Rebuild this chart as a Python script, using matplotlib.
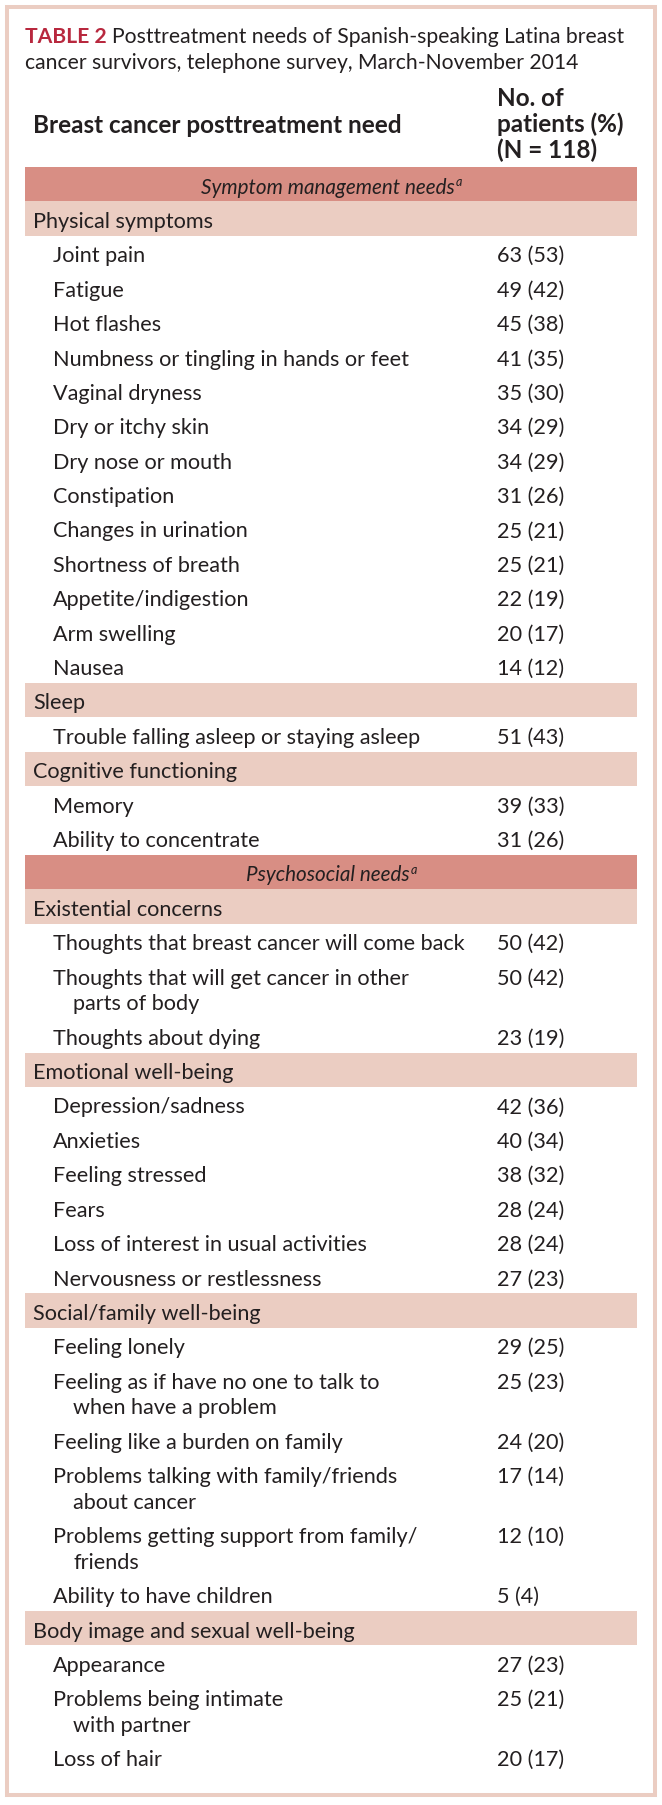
import matplotlib
matplotlib.use("Agg")
import matplotlib.pyplot as plt
from matplotlib.patches import Rectangle

# table content
title_lead = "TABLE 2"
title_line1 = "Posttreatment needs of Spanish-speaking Latina breast"
title_line2 = "cancer survivors, telephone survey, March-November 2014"
col_need = "Breast cancer posttreatment need"
col_count = ["No. of", "patients (%)", "(N = 118)"]

physical_items = ["Joint pain", "Fatigue", "Hot flashes", "Numbness or tingling in hands or feet",
                  "Vaginal dryness", "Dry or itchy skin", "Dry nose or mouth", "Constipation",
                  "Changes in urination", "Shortness of breath", "Appetite/indigestion",
                  "Arm swelling", "Nausea"]
physical_n = [63, 49, 45, 41, 35, 34, 34, 31, 25, 25, 22, 20, 14]
physical_pct = [53, 42, 38, 35, 30, 29, 29, 26, 21, 21, 19, 17, 12]

sleep_items = ["Trouble falling asleep or staying asleep"]
sleep_n = [51]
sleep_pct = [43]

cognitive_items = ["Memory", "Ability to concentrate"]
cognitive_n = [39, 31]
cognitive_pct = [33, 26]

existential_items = ["Thoughts that breast cancer will come back",
                     "Thoughts that will get cancer in other\nparts of body",
                     "Thoughts about dying"]
existential_n = [50, 50, 23]
existential_pct = [42, 42, 19]

emotional_items = ["Depression/sadness", "Anxieties", "Feeling stressed", "Fears",
                   "Loss of interest in usual activities", "Nervousness or restlessness"]
emotional_n = [42, 40, 38, 28, 28, 27]
emotional_pct = [36, 34, 32, 24, 24, 23]

social_items = ["Feeling lonely", "Feeling as if have no one to talk to\nwhen have a problem",
                "Feeling like a burden on family", "Problems talking with family/friends\nabout cancer",
                "Problems getting support from family/\nfriends", "Ability to have children"]
social_n = [29, 25, 24, 17, 12, 5]
social_pct = [25, 23, 20, 14, 10, 4]

body_items = ["Appearance", "Problems being intimate\nwith partner", "Loss of hair"]
body_n = [27, 25, 20]
body_pct = [23, 21, 17]

sections = [
    ("Symptom management needs", [
        ("Physical symptoms", physical_items, physical_n, physical_pct),
        ("Sleep", sleep_items, sleep_n, sleep_pct),
        ("Cognitive functioning", cognitive_items, cognitive_n, cognitive_pct),
    ]),
    ("Psychosocial needs", [
        ("Existential concerns", existential_items, existential_n, existential_pct),
        ("Emotional well-being", emotional_items, emotional_n, emotional_pct),
        ("Social/family well-being", social_items, social_n, social_pct),
        ("Body image and sexual well-being", body_items, body_n, body_pct),
    ]),
]

DARK = "#d88e84"
LIGHT = "#ebcdc2"
INK = "#231f20"
RED = "#b8283e"
FS = 15.6
TITLE_FS = 15.2
HEAD_FS = 17.5

plt.rcParams["font.family"] = ["Lato", "DejaVu Sans"]

fig = plt.figure(figsize=(6.62, 18.05), dpi=100)
ax = fig.add_axes([0, 0, 1, 1])
ax.set_xlim(0, 662)
ax.set_ylim(1805, 0)
ax.axis("off")

# outer frame
ax.add_patch(Rectangle((7, 7), 648, 1788, fill=False, edgecolor=LIGHT, linewidth=2.9))

# title
t0 = ax.text(25, 43, title_lead, color=RED, fontsize=TITLE_FS, fontweight="bold", va="baseline")
ax.annotate(title_line1, xy=(1, 43), xycoords=(t0, "data"), xytext=(4, 0),
            textcoords="offset points", fontsize=TITLE_FS, color=INK, va="baseline")
ax.text(25, 69, title_line2, fontsize=TITLE_FS, color=INK, va="baseline")

# column headers
ax.text(33, 133, col_need, fontsize=HEAD_FS, fontweight="bold", color=INK, va="baseline")
for k, line in enumerate(col_count):
    ax.text(497, 106 + 26 * k, line, fontsize=HEAD_FS, fontweight="bold", color=INK, va="baseline")

ROW_H = 34.4
LINE_H = 25.6
BASE = 26.5
y = 167
for sec_name, groups in sections:
    ax.add_patch(Rectangle((25, y), 612, ROW_H, facecolor=DARK, edgecolor="none"))
    st = ax.text(328, y + BASE, sec_name, ha="center", va="baseline", style="italic",
                 fontsize=FS * 0.95, color=INK)
    ax.annotate("a", xy=(1, y + BASE - 7), xycoords=(st, "data"), xytext=(0.5, 0),
                textcoords="offset points", va="baseline", fontsize=9, style="italic", color=INK)
    y += ROW_H
    for g_name, items, counts, pcts in groups:
        ax.add_patch(Rectangle((25, y), 612, ROW_H, facecolor=LIGHT, edgecolor="none"))
        ax.text(33, y + BASE, g_name, fontsize=FS, color=INK, va="baseline")
        y += ROW_H
        for item, n, p in zip(items, counts, pcts):
            lines = item.split("\n")
            ax.text(53, y + BASE, lines[0], fontsize=FS, color=INK, va="baseline")
            for k, extra in enumerate(lines[1:], 1):
                ax.text(73, y + BASE + k * LINE_H, extra, fontsize=FS, color=INK, va="baseline")
            ax.text(497, y + BASE, f"{n} ({p})", fontsize=FS, color=INK, va="baseline")
            y += ROW_H + LINE_H * (len(lines) - 1)

fig.savefig("out.png", dpi=100)
